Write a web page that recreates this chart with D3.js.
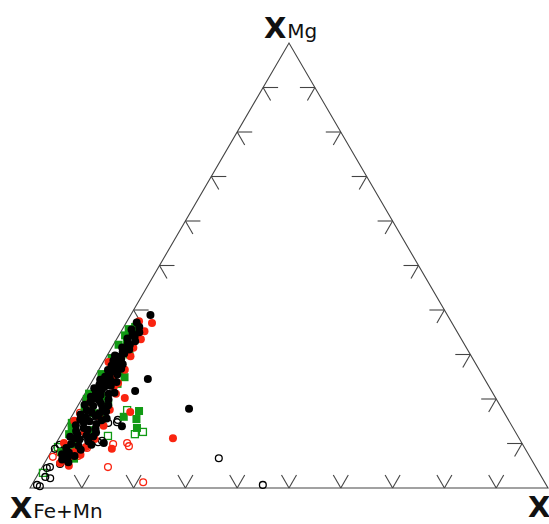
<!DOCTYPE html>
<html>
<head>
<meta charset="utf-8">
<script src="https://cdn.jsdelivr.net/npm/d3@7/dist/d3.min.js"></script>
<style>
  body { margin: 0; background: #fff; }
  text { font-family: "DejaVu Sans", sans-serif; fill: #111; }
</style>
</head>
<body>
<div id="ternaryContainer"></div>
<script>
// every point is [XMg, XCa], XFe+Mn is what is left
const blackFilled = [
  [0.389, 0.038], [0.372, 0.02], [0.362, 0.03], [0.356, 0.018], [0.35, 0.036],
  [0.346, 0.025], [0.34, 0.032], [0.336, 0.02], [0.33, 0.038], [0.326, 0.026],
  [0.321, 0.032], [0.316, 0.02], [0.311, 0.036], [0.306, 0.026], [0.302, 0.031],
  [0.298, 0.015], [0.295, 0.022], [0.29, 0.031], [0.286, 0.018], [0.281, 0.028],
  [0.278, 0.04], [0.275, 0.02], [0.27, 0.03], [0.265, 0.018], [0.262, 0.033],
  [0.259, 0.025], [0.255, 0.041], [0.25, 0.02], [0.248, 0.03], [0.245, 0.105],
  [0.243, 0.014], [0.24, 0.036], [0.236, 0.025], [0.232, 0.018], [0.23, 0.041],
  [0.227, 0.03], [0.224, 0.012], [0.22, 0.028], [0.218, 0.094], [0.215, 0.02],
  [0.212, 0.046], [0.209, 0.032], [0.205, 0.015], [0.201, 0.025], [0.199, 0.052],
  [0.196, 0.036], [0.193, 0.02], [0.19, 0.042], [0.187, 0.012], [0.184, 0.03],
  [0.18, 0.05], [0.178, 0.218], [0.175, 0.022], [0.172, 0.061], [0.169, 0.035],
  [0.165, 0.015], [0.162, 0.046], [0.159, 0.028], [0.156, 0.07], [0.154, 0.02],
  [0.15, 0.04], [0.147, 0.03], [0.144, 0.056], [0.141, 0.018], [0.139, 0.108],
  [0.135, 0.036], [0.131, 0.046], [0.128, 0.025], [0.125, 0.065], [0.121, 0.031],
  [0.118, 0.05], [0.115, 0.02], [0.112, 0.031], [0.109, 0.041], [0.105, 0.06],
  [0.101, 0.092], [0.099, 0.03], [0.095, 0.046], [0.09, 0.025], [0.086, 0.055],
  [0.08, 0.035], [0.076, 0.024], [0.072, 0.05], [0.07, 0.038], [0.064, 0.03],
  [0.058, 0.045], [0.268, 0.042], [0.238, 0.048], [0.214, 0.056], [0.186, 0.058],
  [0.168, 0.05], [0.152, 0.062], [0.133, 0.06], [0.116, 0.064], [0.097, 0.07],
];

const redFilled = [
  [0.375, 0.023], [0.371, 0.05], [0.352, 0.045], [0.334, 0.047], [0.315, 0.042],
  [0.296, 0.046], [0.283, 0.01], [0.266, 0.05], [0.252, 0.036], [0.236, 0.052],
  [0.228, 0.048], [0.212, 0.06], [0.202, 0.082], [0.192, 0.02], [0.176, 0.066],
  [0.171, 0.108], [0.161, 0.052], [0.151, 0.01], [0.14, 0.072], [0.126, 0.042],
  [0.112, 0.22], [0.11, 0.07], [0.101, 0.015], [0.092, 0.062], [0.088, 0.114],
  [0.081, 0.046], [0.075, 0.06], [0.066, 0.041], [0.056, 0.03], [0.05, 0.05],
];

const greenFilled = [
  [0.362, 0.022], [0.357, 0.012], [0.351, 0.026], [0.343, 0.012], [0.332, 0.021],
  [0.322, 0.01], [0.3, 0.042], [0.291, 0.012], [0.276, 0.036], [0.262, 0.046],
  [0.256, 0.01], [0.249, 0.058], [0.241, 0.02], [0.234, 0.052], [0.221, 0.015],
  [0.206, 0.041], [0.2, 0.01], [0.19, 0.056], [0.181, 0.015], [0.173, 0.124],
  [0.168, 0.04], [0.16, 0.101], [0.155, 0.128], [0.154, 0.062], [0.146, 0.01],
  [0.135, 0.139], [0.13, 0.056], [0.121, 0.015], [0.111, 0.03], [0.097, 0.033],
  [0.091, 0.046], [0.081, 0.02], [0.066, 0.052], [0.346, 0.03], [0.212, 0.008],
  [0.137, 0.012],
];

const blackOpen = [
  [0.164, 0.053], [0.162, 0.041], [0.153, 0.093], [0.148, 0.094], [0.146, 0.078],
  [0.124, 0.054], [0.115, 0.05], [0.106, 0.086], [0.103, 0.08], [0.097, 0.009],
  [0.088, 0.004], [0.054, 0.031], [0.047, 0.015], [0.045, 0.01], [0.025, 0.017],
  [0.022, 0.028], [0.007, 0.01], [0.004, 0.017], [0.067, 0.331], [0.007, 0.446],
];

const redOpen = [
  [0.169, 0.012], [0.101, 0.137], [0.094, 0.144], [0.099, 0.111], [0.09, 0.065],
  [0.079, 0.053], [0.079, 0.018], [0.072, 0.057], [0.067, 0.038], [0.07, 0.009],
  [0.058, 0.044], [0.047, 0.127], [0.013, 0.212],
];

const greenOpen = [
  [0.2, 0.01], [0.175, 0.1], [0.146, 0.008], [0.126, 0.155], [0.121, 0.142],
  [0.117, 0.092], [0.092, 0.008], [0.034, 0.008],
];

const tickValues = [0.1, 0.2, 0.3, 0.4, 0.5, 0.6, 0.7, 0.8, 0.9];

const width = 549,
  height = 524;

const red = "#fa2410",
  green = "#119a14";

// x runs along the bottom edge, y is the Mg height
const xScale = d3.scaleLinear().domain([0, 1]).range([30, 548]);
const yScale = d3.scaleLinear().domain([0, 1]).range([488, 43]);

const px = (d) => xScale(d[1] + d[0] / 2);
const py = (d) => yScale(d[0]);

const svg = d3
  .select("#ternaryContainer")
  .append("svg")
  .attr("width", width)
  .attr("height", height);

//triangle outline
const corners = [
  [0, 0],
  [1, 0],
  [0, 1],
];
svg
  .append("path")
  .attr("d", d3.line().x(px).y(py)(corners) + "Z")
  .attr("fill", "none")
  .attr("stroke", "#444")
  .attr("stroke-width", 1.1);

// ticks, two short strokes at every tenth
const L = 15;
const s = Math.sqrt(3) / 2;
const tickLines = [];
tickValues.forEach((t) => {
  const b = [0, t]; // bottom edge
  tickLines.push([b, -0.5 * L, -s * L], [b, 0.5 * L, -s * L]);
  const l = [t, 0]; // left edge
  tickLines.push([l, L, 0], [l, 0.5 * L, s * L]);
  const r = [t, 1 - t]; // right edge
  tickLines.push([r, -L, 0], [r, -0.5 * L, s * L]);
});

svg
  .selectAll(".tick")
  .data(tickLines)
  .enter()
  .append("line")
  .attr("class", "tick")
  .attr("x1", (d) => px(d[0]))
  .attr("y1", (d) => py(d[0]))
  .attr("x2", (d) => px(d[0]) + d[1])
  .attr("y2", (d) => py(d[0]) + d[2])
  .attr("stroke", "#444")
  .attr("stroke-width", 1.1);

// points, open ones first so filled ones sit on top
function drawCircles(data, color, filled) {
  svg
    .append("g")
    .selectAll("circle")
    .data(data)
    .enter()
    .append("circle")
    .attr("cx", px)
    .attr("cy", py)
    .attr("r", filled ? 4 : 3.4)
    .attr("fill", filled ? color : "none")
    .attr("stroke", color)
    .attr("stroke-width", filled ? 0 : 1.3);
}

function drawSquares(data, color, filled) {
  const size = filled ? 8 : 7;
  svg
    .append("g")
    .selectAll("rect")
    .data(data)
    .enter()
    .append("rect")
    .attr("x", (d) => px(d) - size / 2)
    .attr("y", (d) => py(d) - size / 2)
    .attr("width", size)
    .attr("height", size)
    .attr("fill", filled ? color : "none")
    .attr("stroke", color)
    .attr("stroke-width", filled ? 0 : 1.3);
}

drawSquares(greenOpen, green, false);
drawCircles(redOpen, red, false);
drawCircles(blackOpen, "#000", false);
drawSquares(greenFilled, green, true);
drawCircles(redFilled, red, true);
drawCircles(blackFilled, "#000", true);

// corner labels
function cornerLabel(x, y, sub) {
  const t = svg.append("text").attr("x", x).attr("y", y);
  t.append("tspan").attr("font-size", 29).attr("font-weight", "bold").text("X");
  if (sub) {
    t.append("tspan").attr("font-size", 20).attr("dx", 1).text(sub);
  }
}

cornerLabel(264, 38, "Mg");
cornerLabel(10, 518, "Fe+Mn");
cornerLabel(528, 517, "Ca");
</script>
</body>
</html>
